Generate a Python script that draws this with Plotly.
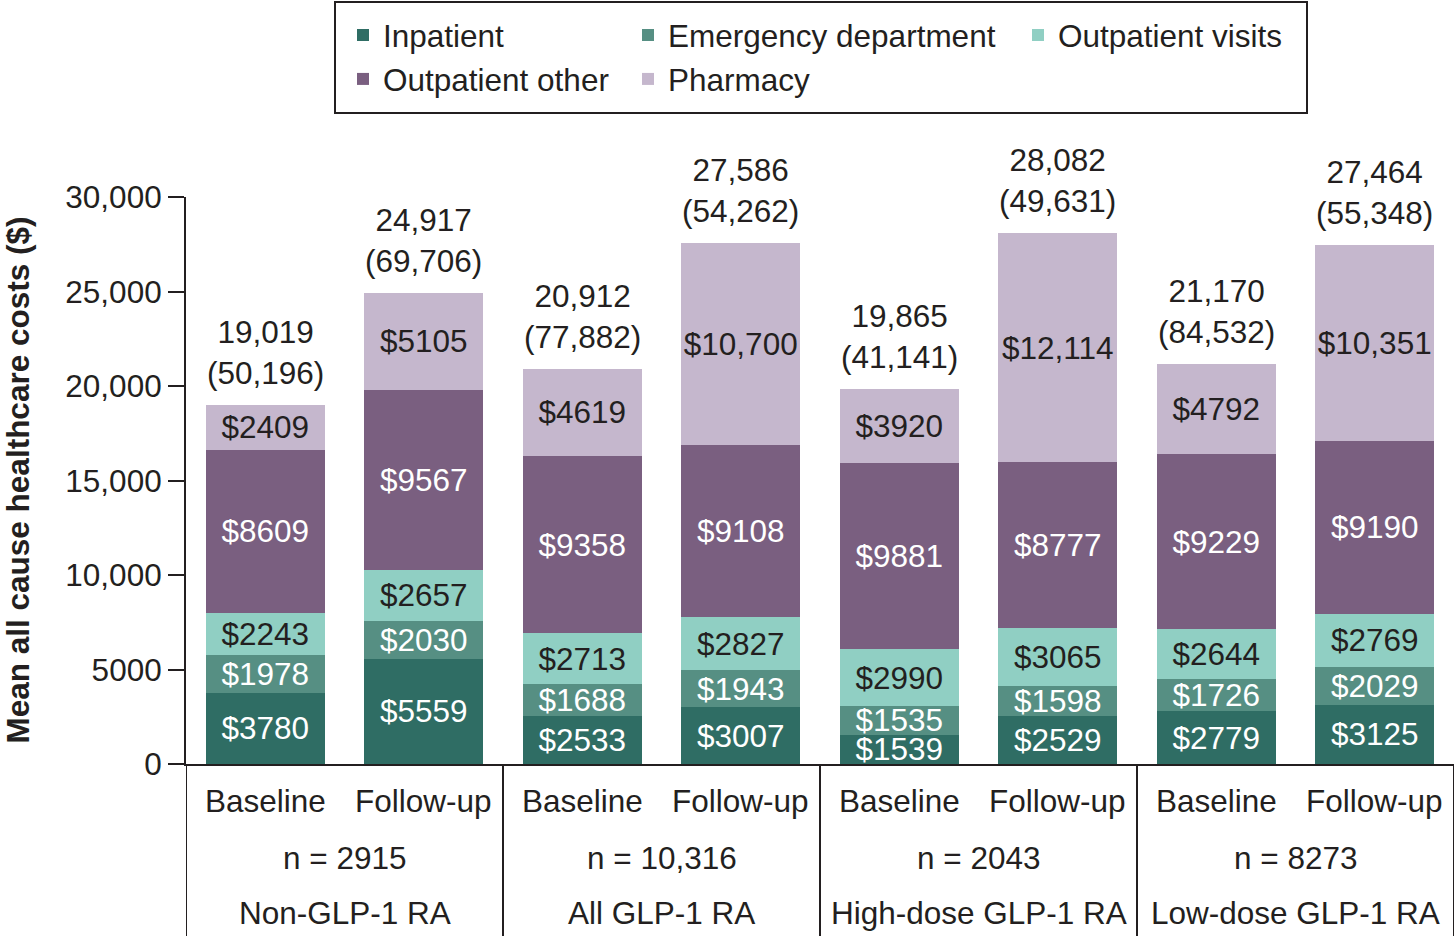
import plotly.graph_objects as go

# ---------------- data ----------------
groups = ["Non-GLP-1 RA", "All GLP-1 RA", "High-dose GLP-1 RA", "Low-dose GLP-1 RA"]
group_n = ["n = 2915", "n = 10,316", "n = 2043", "n = 8273"]
periods = ["Baseline", "Follow-up"]

inpatient = [3780, 5559, 2533, 3007, 1539, 2529, 2779, 3125]
emergency = [1978, 2030, 1688, 1943, 1535, 1598, 1726, 2029]
outpatient_visits = [2243, 2657, 2713, 2827, 2990, 3065, 2644, 2769]
outpatient_other = [8609, 9567, 9358, 9108, 9881, 8777, 9229, 9190]
pharmacy = [2409, 5105, 4619, 10700, 3920, 12114, 4792, 10351]
totals = [19019, 24917, 20912, 27586, 19865, 28082, 21170, 27464]
total_sd = [50196, 69706, 77882, 54262, 41141, 49631, 84532, 55348]

y_tickvals = [0, 5000, 10000, 15000, 20000, 25000, 30000]
y_ticktext = ["0", "5000", "10,000", "15,000", "20,000", "25,000", "30,000"]

# ---------------- style ----------------
FONT = "Liberation Sans, Arial, Helvetica, sans-serif"
INK = "#231f20"
FS = 31.5
W, H = 1454, 936
ML, MR, MT, MB = 186, 0, 197, 172
PW, PH = W - ML - MR, H - MT - MB

def px_x(p):
    return (p - ML) / PW

def px_y(p):
    return (H - MB - p) / PH

def money(v):
    return f"${v:,}" if v >= 10000 else f"${v}"

series = [
    ("Inpatient", inpatient, "#2f6d64", "white", "legend"),
    ("Emergency department", emergency, "#568f83", "white", "legend2"),
    ("Outpatient visits", outpatient_visits, "#90cfc3", INK, "legend3"),
    ("Outpatient other", outpatient_other, "#7a5f80", "white", "legend"),
    ("Pharmacy", pharmacy, "#c5b7cd", INK, "legend2"),
]

n_bars = len(totals)
xs = list(range(n_bars))

fig = go.Figure()
for name, vals, color, tcolor, leg in series:
    fig.add_trace(go.Bar(
        x=xs, y=vals, name=name, legend=leg, legendgroup=name,
        marker=dict(color=color, line=dict(width=0)),
        width=0.75,
        text=[money(v) for v in vals],
        textposition="inside", insidetextanchor="middle", textangle=0,
        textfont=dict(family=FONT, size=FS, color=tcolor),
        hoverinfo="skip",
    ))

annotations = []
# totals above bars
for i, (t, sd) in enumerate(zip(totals, total_sd)):
    annotations.append(dict(
        x=i, y=t, xref="x", yref="y", text=f"{t:,}<br>({sd:,})",
        showarrow=False, yanchor="bottom", yshift=12,
        font=dict(family=FONT, size=FS, color=INK),
    ))
# period labels
for i in xs:
    annotations.append(dict(
        x=i, y=px_y(801), xref="x", yref="paper", text=periods[i % 2],
        showarrow=False, yanchor="middle",
        font=dict(family=FONT, size=FS, color=INK),
    ))
# n and group labels
for g, (gname, nlab) in enumerate(zip(groups, group_n)):
    xc = 2 * g + 0.5
    annotations.append(dict(
        x=xc, y=px_y(858), xref="x", yref="paper", text=nlab,
        showarrow=False, yanchor="middle",
        font=dict(family=FONT, size=FS, color=INK),
    ))
    annotations.append(dict(
        x=xc, y=px_y(913), xref="x", yref="paper", text=gname,
        showarrow=False, yanchor="middle",
        font=dict(family=FONT, size=FS, color=INK),
    ))
# y title
annotations.append(dict(
    x=px_x(17), y=0.5, xref="paper", yref="paper",
    text="<b>Mean all cause healthcare costs ($)</b>", textangle=-90,
    showarrow=False, xanchor="center", yanchor="middle",
    font=dict(family=FONT, size=FS, color=INK),
))

shapes = []
for xb in [-0.5, 1.5, 3.5, 5.5, 7.5]:
    shapes.append(dict(type="line", xref="x", yref="paper", x0=xb, x1=xb,
                       y0=0, y1=px_y(940), line=dict(color=INK, width=2)))
# legend box
shapes.append(dict(type="rect", xref="paper", yref="paper",
                   x0=px_x(335), x1=px_x(1307), y0=px_y(2), y1=px_y(113),
                   line=dict(color=INK, width=2), fillcolor="rgba(0,0,0,0)"))

leg_common = dict(orientation="v", bgcolor="rgba(0,0,0,0)", borderwidth=0,
                  font=dict(family=FONT, size=FS, color=INK), traceorder="normal",
                  tracegroupgap=10, yanchor="top", xanchor="left", y=px_y(8))

fig.update_layout(
    width=W, height=H,
    margin=dict(l=ML, r=MR, t=MT, b=MB, autoexpand=False),
    paper_bgcolor="white", plot_bgcolor="white",
    barmode="stack", bargap=0.25,
    font=dict(family=FONT, size=FS, color=INK),
    showlegend=True,
    legend=dict(leg_common, x=px_x(343)),
    legend2=dict(leg_common, x=px_x(628)),
    legend3=dict(leg_common, x=px_x(1018)),
    uniformtext=dict(minsize=FS, mode="show"),
    xaxis=dict(range=[-0.5, 7.5], showline=True, linecolor=INK, linewidth=2,
               showgrid=False, zeroline=False, showticklabels=False, ticks=""),
    yaxis=dict(range=[0, 30000], tickvals=y_tickvals, ticktext=y_ticktext,
               showline=True, linecolor=INK, linewidth=2, ticks="outside",
               ticklen=16, tickwidth=2, tickcolor=INK, showgrid=False,
               zeroline=False, tickfont=dict(family=FONT, size=FS, color=INK)),
    annotations=annotations, shapes=shapes,
)

fig.write_html("out.html")
